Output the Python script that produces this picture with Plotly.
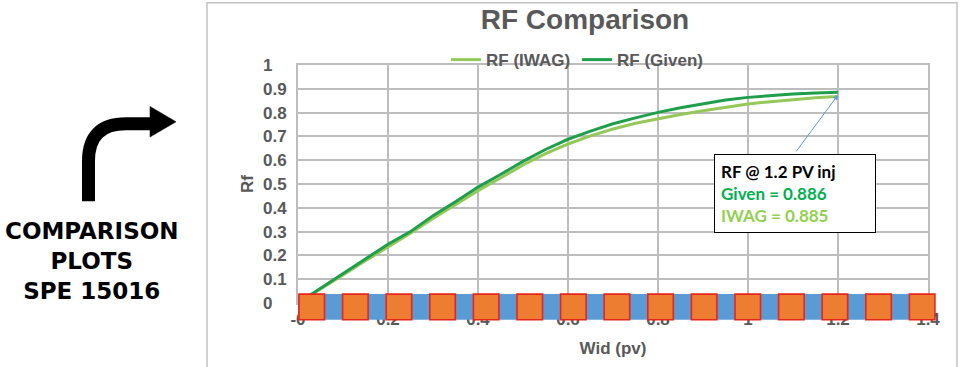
import plotly.graph_objects as go

# ---------------- data ----------------
wid_pv = [0.00, 0.05, 0.10, 0.15, 0.20, 0.25, 0.30, 0.35, 0.40, 0.45, 0.50, 0.55,
          0.60, 0.65, 0.70, 0.75, 0.80, 0.85, 0.90, 0.95, 1.00, 1.05, 1.10, 1.15, 1.20]
rf_given = [0.000, 0.062, 0.125, 0.185, 0.247, 0.300, 0.367, 0.425, 0.487, 0.540, 0.595, 0.645,
            0.688, 0.722, 0.753, 0.778, 0.801, 0.820, 0.838, 0.853, 0.864, 0.872, 0.878, 0.882, 0.886]
rf_iwag = [0.000, 0.058, 0.118, 0.178, 0.236, 0.293, 0.355, 0.412, 0.472, 0.525, 0.580, 0.628,
           0.668, 0.702, 0.731, 0.755, 0.775, 0.792, 0.808, 0.822, 0.836, 0.846, 0.855, 0.862, 0.868]
series_names = ["RF (IWAG)", "RF (Given)"]
x_tickvals = [0, 0.2, 0.4, 0.6, 0.8, 1.0, 1.2, 1.4]
x_ticktext = ["-0", "0.2", "0.4", "0.6", "0.8", "1", "1.2", "1.4"]
y_tickvals = [0, 0.1, 0.2, 0.3, 0.4, 0.5, 0.6, 0.7, 0.8, 0.9, 1.0]
y_ticktext = ["0", "0.1", "0.2", "0.3", "0.4", "0.5", "0.6", "0.7", "0.8", "0.9", "1"]
note_lines = ["RF @ 1.2 PV inj", "Given = 0.886", "IWAG = 0.885"]
note_point = (1.2, 0.874)
side_lines = ["COMPARISON", "PLOTS", "SPE 15016"]
title_text = "RF Comparison"
x_title = "Wid (pv)"
y_title = "Rf"

# ---------------- layout helpers ----------------
W, H = 969, 367
L, R, T, B = 298, 41, 65, 61
PW, PH = W - L - R, H - T - B


def px(xp):
    return (xp - L) / PW


def py(yp):
    return (H - B - yp) / PH


GRAY = "#595959"
GRID = "#bdbdbd"
C_GIVEN = "#1f9e4c"
C_IWAG = "#94c95a"
FONT = "Liberation Sans"

fig = go.Figure()
fig.add_trace(go.Scatter(x=wid_pv, y=rf_iwag, mode="lines", name=series_names[0],
                         line=dict(color=C_IWAG, width=3)))
fig.add_trace(go.Scatter(x=wid_pv, y=rf_given, mode="lines", name=series_names[1],
                         line=dict(color=C_GIVEN, width=3)))

shapes = []
# chart frame
shapes.append(dict(type="rect", xref="paper", yref="paper", x0=px(207), x1=px(957),
                   y0=py(420), y1=py(2), line=dict(color="#c2c2c2", width=1.5),
                   fillcolor="rgba(0,0,0,0)", layer="below"))
# decorative strip over the x axis
shapes.append(dict(type="rect", xref="paper", yref="paper", x0=px(298), x1=px(935),
                   y0=py(323), y1=py(297), fillcolor="#5B9BD5", line=dict(width=0),
                   layer="above"))
for i in range(15):
    x0 = 299 + i * 43.6
    shapes.append(dict(type="rect", xref="paper", yref="paper", x0=px(x0), x1=px(x0 + 25.5),
                       y0=py(323), y1=py(297), fillcolor="#ED7D31",
                       line=dict(color="#E8251B", width=1.6), layer="above"))
# curved arrow on the left
shapes.append(dict(type="path", xref="paper", yref="paper",
                   path=(f"M {px(88.5)},{py(203)} L {px(88.5)},{py(162)} "
                         f"Q {px(88.5)},{py(124.5)} {px(126)},{py(124.5)} "
                         f"L {px(152)},{py(124.5)}"),
                   line=dict(color="black", width=13), fillcolor="rgba(0,0,0,0)"))
shapes.append(dict(type="path", xref="paper", yref="paper",
                   path=(f"M {px(150)},{py(107)} L {px(176)},{py(122.5)} "
                         f"L {px(150)},{py(138)} Z"),
                   line=dict(color="black", width=0.5), fillcolor="black"))

annotations = []
annotations.append(dict(
    xref="paper", yref="paper", x=px(795), y=py(195), xanchor="center", yanchor="middle",
    text=(f"<span style='color:#000000'>{note_lines[0]}</span><br>"
          f"<span style='color:#00B050'>{note_lines[1]}</span><br>"
          f"<span style='color:#92D050'>{note_lines[2]}</span>"),
    showarrow=False, align="left", width=148, borderpad=6,
    bordercolor="black", borderwidth=1, bgcolor="white",
    font=dict(family="Lato", size=17, weight="bold")))
annotations.append(dict(
    xref="x", yref="y", x=note_point[0], y=note_point[1], text="", showarrow=True,
    axref="pixel", ayref="pixel", ax=-43, ay=58, arrowhead=2, arrowsize=1,
    arrowwidth=1, arrowcolor="#5B9BD5", standoff=0))
annotations.append(dict(
    xref="paper", yref="paper", x=px(92), y=py(263), xanchor="center", yanchor="middle",
    text="<br>".join(side_lines), showarrow=False, align="center",
    font=dict(family="DejaVu Sans", size=23, color="black", weight="bold")))

axis_font = dict(family=FONT, size=17, color=GRAY, weight="bold")

fig.update_layout(
    width=W, height=H,
    margin=dict(l=L, r=R, t=T, b=B, pad=0),
    paper_bgcolor="white", plot_bgcolor="white",
    title=dict(text=title_text, x=585 / W, y=1 - 19 / H, xref="container", yref="container",
               xanchor="center", yanchor="middle",
               font=dict(family=FONT, size=28, color=GRAY, weight="bold")),
    legend=dict(orientation="h", x=px(446), y=py(60), xanchor="left", yanchor="middle",
                bgcolor="rgba(0,0,0,0)", font=axis_font, entrywidth=86,
                entrywidthmode="pixels", itemwidth=30),
    xaxis=dict(range=[0, 1.4], tickvals=x_tickvals, ticktext=x_ticktext,
               showgrid=True, gridcolor=GRID, gridwidth=2, zeroline=False,
               showline=True, linecolor=GRID, linewidth=2, mirror=True,
               ticks="", tickfont=axis_font,
               title=dict(text=x_title, font=axis_font, standoff=14)),
    yaxis=dict(range=[0, 1], tickvals=y_tickvals,
               ticktext=[t + "\u00a0" * (3 if len(t) == 1 else 0) for t in y_ticktext],
               showgrid=True, gridcolor=GRID, gridwidth=2, zeroline=False,
               showline=True, linecolor=GRID, linewidth=2, mirror=True,
               ticks="outside", ticklen=6, tickcolor="rgba(0,0,0,0)",
               tickfont=axis_font,
               title=dict(text=y_title, font=axis_font, standoff=5)),
    shapes=shapes,
    annotations=annotations,
)

page_fix = (
    "var de=document.documentElement, bd=document.body;"
    "de.style.margin='0';de.style.padding='0';de.style.overflow='hidden';"
    "de.style.height='367px';"
    "bd.style.margin='0';bd.style.padding='0';bd.style.overflow='hidden';"
    "bd.style.height='367px';bd.style.width='969px';"
)

fig.write_html("out.html", config={"displayModeBar": False}, post_script=page_fix)
